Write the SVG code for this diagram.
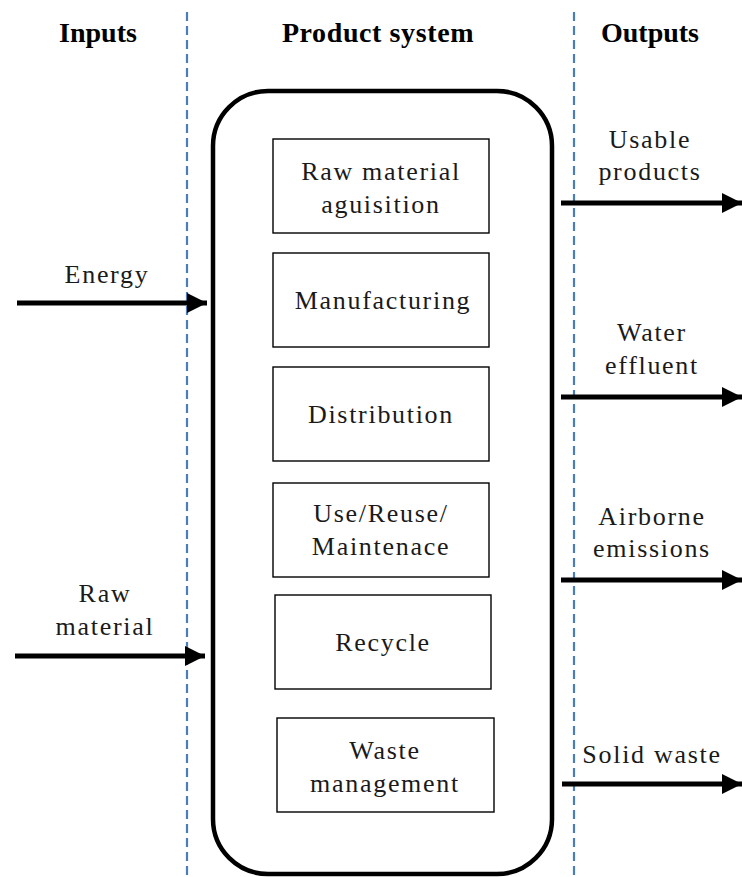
<svg xmlns="http://www.w3.org/2000/svg" width="742" height="877" viewBox="0 0 742 877">
  <style>
    .hdr { font-family: "Liberation Serif", serif; font-weight: bold; font-size: 28px; fill: #000; text-anchor: middle; }
    .lbl { font-family: "Liberation Serif", serif; font-size: 26px; letter-spacing: 1.7px; fill: #1a1a1a; text-anchor: middle; }
    .box { fill: #fff; stroke: #000; stroke-width: 1.4; }
    .div { stroke: #4a7ebb; stroke-width: 2.2; stroke-dasharray: 9 5; fill: none; }
    .arrow { stroke: #000; stroke-width: 5; fill: none; marker-end: url(#ah); }
  </style>
  <defs>
    <marker id="ah" markerUnits="userSpaceOnUse" markerWidth="22" markerHeight="22" refX="20" refY="11" orient="auto">
      <path d="M0,1 L20,11 L0,21 Z" fill="#000"/>
    </marker>
  </defs>
  <rect width="742" height="877" fill="#fff"/>

  <g id="headers">
    <text class="hdr" x="98" y="42">Inputs</text>
    <text class="hdr" x="378" y="42" letter-spacing="0.6">Product system</text>
    <text class="hdr" x="650" y="42">Outputs</text>
  </g>

  <g id="product-system">
    <rect x="213" y="91" width="339" height="783" rx="55" ry="55" fill="none" stroke="#000" stroke-width="4.5"/>
  </g>

  <g id="raw-material-aquisition">
    <rect class="box" x="273" y="139" width="216" height="94"/>
    <text class="lbl" x="381" y="180">Raw material</text>
    <text class="lbl" x="381" y="213">aguisition</text>
  </g>
  <g id="manufacturing">
    <rect class="box" x="273" y="253" width="216" height="94"/>
    <text class="lbl" x="383" y="309">Manufacturing</text>
  </g>
  <g id="distribution">
    <rect class="box" x="273" y="367" width="216" height="94"/>
    <text class="lbl" x="381" y="423">Distribution</text>
  </g>
  <g id="use-reuse">
    <rect class="box" x="273" y="483" width="216" height="94"/>
    <text class="lbl" x="381" y="522">Use/Reuse/</text>
    <text class="lbl" x="381" y="555">Maintenace</text>
  </g>
  <g id="recycle">
    <rect class="box" x="275" y="595" width="216" height="94"/>
    <text class="lbl" x="383" y="651">Recycle</text>
  </g>
  <g id="waste-management">
    <rect class="box" x="277" y="718" width="217" height="94"/>
    <text class="lbl" x="385" y="759">Waste</text>
    <text class="lbl" x="385" y="792">management</text>
  </g>

  <g id="dividers">
    <line class="div" x1="187" y1="12" x2="187" y2="877"/>
    <line class="div" x1="574" y1="12" x2="574" y2="877"/>
  </g>

  <g id="connectors">
    <line class="arrow" x1="17" y1="303" x2="207" y2="303"/>
    <line class="arrow" x1="15" y1="656" x2="205" y2="656"/>
    <line class="arrow" x1="561" y1="203" x2="742" y2="203"/>
    <line class="arrow" x1="561" y1="397" x2="742" y2="397"/>
    <line class="arrow" x1="561" y1="580" x2="742" y2="580"/>
    <line class="arrow" x1="562" y1="784" x2="742" y2="784"/>
  </g>

  <g id="labels">
    <text class="lbl" x="107" y="283">Energy</text>
    <text class="lbl" x="105" y="602">Raw</text>
    <text class="lbl" x="105" y="635">material</text>
    <text class="lbl" x="650" y="148">Usable</text>
    <text class="lbl" x="650" y="180">products</text>
    <text class="lbl" x="652" y="341">Water</text>
    <text class="lbl" x="652" y="374">effluent</text>
    <text class="lbl" x="652" y="525">Airborne</text>
    <text class="lbl" x="652" y="557">emissions</text>
    <text class="lbl" x="652" y="763">Solid waste</text>
  </g>
</svg>
